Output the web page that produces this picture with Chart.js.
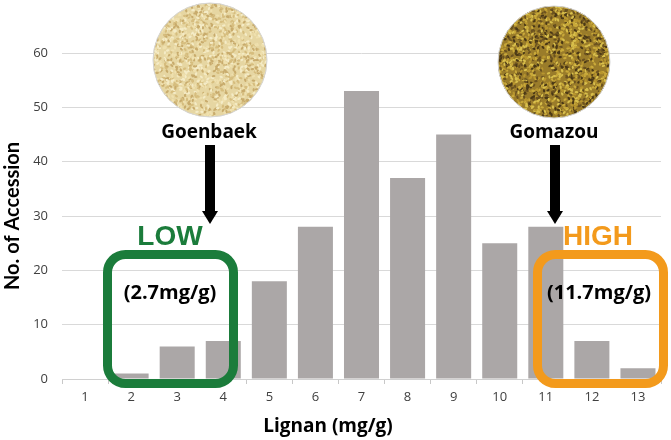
<!DOCTYPE html>
<html>
<head>
<meta charset="utf-8">
<title>Lignan distribution</title>
<script src="https://cdn.jsdelivr.net/npm/chart.js@4.4.1/dist/chart.umd.min.js"></script>
<style>
  html, body { margin: 0; padding: 0; background: #fff; }
  #wrap { width: 671px; height: 440px; }
</style>
</head>
<body>
<div id="wrap"><canvas id="myChart" width="671" height="440"></canvas></div>
<script>
'use strict';

// lignan content classes (mg/g) and number of accessions in each
let lignanClasses = ['1', '2', '3', '4', '5', '6', '7', '8', '9', '10', '11', '12', '13'];
let accessionCounts = [0, 1, 6, 7, 18, 28, 53, 37, 45, 25, 28, 7, 2];
let yTicks = [0, 10, 20, 30, 40, 50, 60];

let xTitle = 'Lignan (mg/g)';
let yTitle = 'No. of Accession';
let lowLabel = 'LOW';
let highLabel = 'HIGH';
let lowName = 'Goenbaek';
let highName = 'Gomazou';
let lowValue = '(2.7mg/g)';
let highValue = '(11.7mg/g)';

const ctx = document.getElementById('myChart').getContext('2d');

// small seeded generator, only used for the seed texture in the photos
function makeRand(seed) {
  let s = seed;
  return function () {
    s = (s * 1103515245 + 12345) % 2147483648;
    return s / 2147483648;
  };
}

function drawSeeds(c, cx, cy, r, base, colors, seed) {
  let rand = makeRand(seed);
  c.save();
  c.beginPath();
  c.arc(cx, cy, r, 0, Math.PI * 2);
  c.clip();
  c.fillStyle = base;
  c.fillRect(cx - r, cy - r, r * 2, r * 2);
  for (let i = 0; i < 1600; i++) {
    let x = cx - r + rand() * r * 2;
    let y = cy - r + rand() * r * 2;
    c.fillStyle = colors[Math.floor(rand() * colors.length)];
    c.beginPath();
    c.ellipse(x, y, 1.8, 1.1, rand() * Math.PI, 0, Math.PI * 2);
    c.fill();
  }
  c.restore();
  c.beginPath();
  c.arc(cx, cy, r, 0, Math.PI * 2);
  c.strokeStyle = '#d4d4d4';
  c.lineWidth = 1;
  c.stroke();
}

function drawArrow(c, x, top, tip) {
  c.fillStyle = '#000';
  c.fillRect(x - 5, top, 10, tip - top - 12);
  c.beginPath();
  c.moveTo(x - 8, tip - 13);
  c.lineTo(x + 8, tip - 13);
  c.lineTo(x, tip);
  c.closePath();
  c.fill();
}

function roundBox(c, x, y, w, h, r, color) {
  c.beginPath();
  c.roundRect(x, y, w, h, r);
  c.strokeStyle = color;
  c.lineWidth = 9;
  c.stroke();
}

const annotations = {
  id: 'annotations',
  afterDraw(chart) {
    let c = chart.ctx;
    c.save();

    drawSeeds(c, 210, 60, 57, '#e6d6a2', ['#f4ebc6', '#efe0ae', '#d6bd7e', '#c8ab6c'], 7);
    drawSeeds(c, 554, 62, 56, '#9a7c2a', ['#c9a93a', '#d8bf4c', '#6b5220', '#4a3816', '#b8962f'], 11);

    c.textAlign = 'center';
    c.textBaseline = 'middle';
    c.fillStyle = '#000';
    c.font = 'bold 19px "Open Sans"';
    c.fillText(lowName, 209, 133);
    c.fillText(highName, 554, 133);

    drawArrow(c, 210, 145, 224);
    drawArrow(c, 555, 145, 224);

    roundBox(c, 107.5, 254.5, 126, 129, 18, '#1b7c3b');
    roundBox(c, 537.5, 254.5, 126, 129, 18, '#f39a1c');

    c.font = 'bold 28px "Liberation Sans"';
    c.fillStyle = '#1b7c3b';
    c.fillText(lowLabel, 170, 237);
    c.fillStyle = '#f39a1c';
    c.fillText(highLabel, 598, 237);

    c.fillStyle = '#000';
    c.font = 'bold 20px "Open Sans"';
    c.fillText(lowValue, 170, 293);
    c.fillText(highValue, 599, 293);

    c.font = 'bold 19px "Open Sans"';
    c.fillText(xTitle, 328, 427);

    c.restore();
  }
};

let chartObject = {
  type: 'bar',
  data: {
    labels: lignanClasses,
    datasets: [{
      label: yTitle,
      data: accessionCounts,
      backgroundColor: '#aba7a7',
      borderWidth: 0,
      barPercentage: 0.76,
      categoryPercentage: 1
    }]
  },
  options: {
    responsive: false,
    animation: false,
    devicePixelRatio: 1,
    layout: {
      padding: { top: 53, right: 10, left: 0, bottom: 0 }
    },
    plugins: {
      legend: { display: false },
      tooltip: { enabled: false }
    },
    scales: {
      x: {
        grid: {
          drawOnChartArea: false,
          tickLength: 5,
          color: '#c8c8c8'
        },
        border: { color: '#d0d0d0' },
        ticks: {
          color: '#404040',
          font: { family: 'Open Sans', size: 13 },
          padding: 5
        },
        afterFit(scale) { scale.height = 61; }
      },
      y: {
        min: 0,
        max: 60,
        afterBuildTicks(scale) {
          scale.ticks = yTicks.map(v => ({ value: v }));
        },
        border: { display: false },
        grid: { color: '#d9d9d9', drawTicks: false },
        ticks: {
          color: '#404040',
          font: { family: 'Open Sans', size: 13 },
          padding: 14
        },
        title: {
          display: true,
          text: yTitle,
          color: '#000',
          font: { family: 'Lato', size: 20, weight: 'bold' },
          padding: { top: 1, bottom: 0 }
        },
        afterFit(scale) { scale.width = 62; }
      }
    }
  },
  plugins: [annotations]
};

new Chart(ctx, chartObject);
</script>
</body>
</html>
